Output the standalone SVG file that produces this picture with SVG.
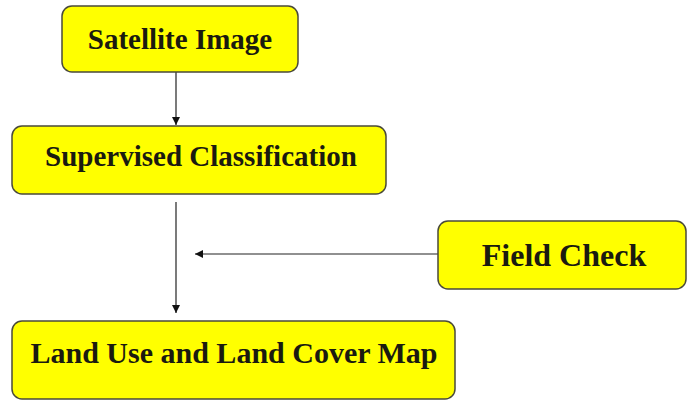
<svg xmlns="http://www.w3.org/2000/svg" width="696" height="401" viewBox="0 0 696 401">
<style>
.box{fill:#ffff00;stroke:#4a4a3a;stroke-width:1.5}
.lbl{font-family:"Liberation Serif","Times New Roman",serif;font-weight:bold;fill:#1a1a10;text-anchor:middle}
.ln{stroke:#222;stroke-width:1.2;fill:none}
</style>
<defs>
<marker id="ah" viewBox="0 0 10 10" refX="10" refY="5" markerWidth="9" markerHeight="8" markerUnits="userSpaceOnUse" orient="auto">
<path d="M0,0 L10,5 L0,10 z" fill="#111"/>
</marker>
</defs>
<rect width="696" height="401" fill="#fff"/>
<g id="connectors">
<line class="ln" x1="176" y1="72" x2="176" y2="125" marker-end="url(#ah)"/>
<line class="ln" x1="176" y1="202" x2="176" y2="313" marker-end="url(#ah)"/>
<line class="ln" x1="438" y1="254" x2="195" y2="254" marker-end="url(#ah)"/>
</g>
<g id="satellite">
<rect class="box" x="62" y="6" width="236" height="66" rx="10"/>
<text class="lbl" x="180" y="49" font-size="29">Satellite Image</text>
</g>
<g id="supervised">
<rect class="box" x="12" y="126" width="374" height="68" rx="10"/>
<text class="lbl" x="201" y="166" font-size="29">Supervised Classification</text>
</g>
<g id="fieldcheck">
<rect class="box" x="438" y="221" width="248" height="68" rx="10"/>
<text class="lbl" x="564" y="266" font-size="32">Field Check</text>
</g>
<g id="landuse">
<rect class="box" x="12" y="321" width="443" height="78" rx="10"/>
<text class="lbl" x="234" y="363" font-size="30">Land Use and Land Cover Map</text>
</g>
</svg>
